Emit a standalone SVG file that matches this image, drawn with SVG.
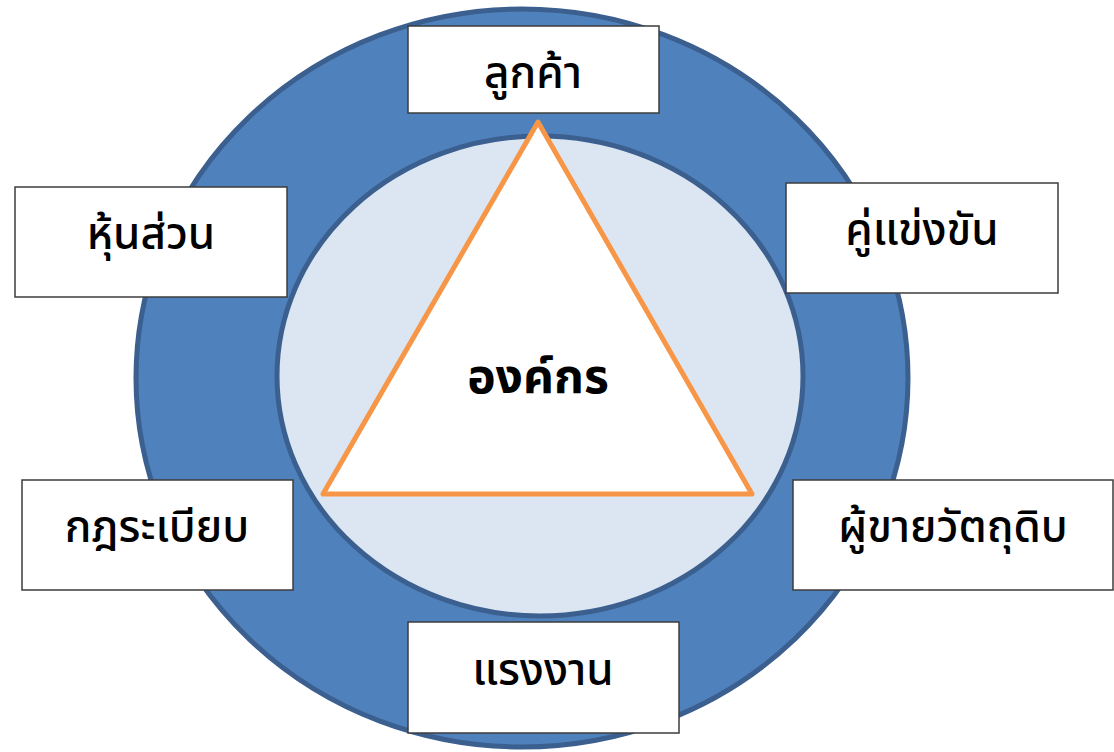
<svg xmlns="http://www.w3.org/2000/svg" width="1114" height="752" viewBox="0 0 1114 752">
<style>
.box{fill:#ffffff;stroke:#3c3c3c;stroke-width:1.5}
.lbl{font-family:"Noto Sans Thai","Noto Sans","DejaVu Sans",sans-serif;font-size:44px;font-weight:500;fill:#000;text-anchor:middle}
.center{font-family:"Noto Sans Thai","Noto Sans","DejaVu Sans",sans-serif;font-size:48px;font-weight:bold;fill:#000;text-anchor:middle}
</style>
<rect width="1114" height="752" fill="#ffffff"/>
<g id="ring">
<ellipse cx="522" cy="378" rx="386" ry="369" fill="#4f81bd" stroke="#3b5f8e" stroke-width="5"/>
<ellipse cx="540" cy="376" rx="263" ry="240" fill="#dce6f2" stroke="#3b5f8e" stroke-width="5"/>
</g>
<g id="org">
<polygon points="538,122 323,494 752,494" fill="#ffffff" stroke="#f79646" stroke-width="5" stroke-linejoin="round"/>
<text class="center" x="538" y="393">องค์กร</text>
</g>
<g id="connectors"></g>
<g id="n-customer"><rect class="box" x="408" y="26" width="251" height="87"/><text class="lbl" x="533" y="88">ลูกค้า</text></g>
<g id="n-partner"><rect class="box" x="15" y="187" width="272" height="110"/><text class="lbl" x="151" y="249">หุ้นส่วน</text></g>
<g id="n-competitor"><rect class="box" x="786" y="183" width="272" height="110"/><text class="lbl" x="922" y="245">คู่แข่งขัน</text></g>
<g id="n-regulation"><rect class="box" x="22" y="480" width="271" height="110"/><text class="lbl" x="157" y="542">กฎระเบียบ</text></g>
<g id="n-supplier"><rect class="box" x="793" y="480" width="320" height="110"/><text class="lbl" x="953" y="542">ผู้ขายวัตถุดิบ</text></g>
<g id="n-labor"><rect class="box" x="408" y="622" width="271" height="111"/><text class="lbl" x="543" y="685">แรงงาน</text></g>
</svg>
